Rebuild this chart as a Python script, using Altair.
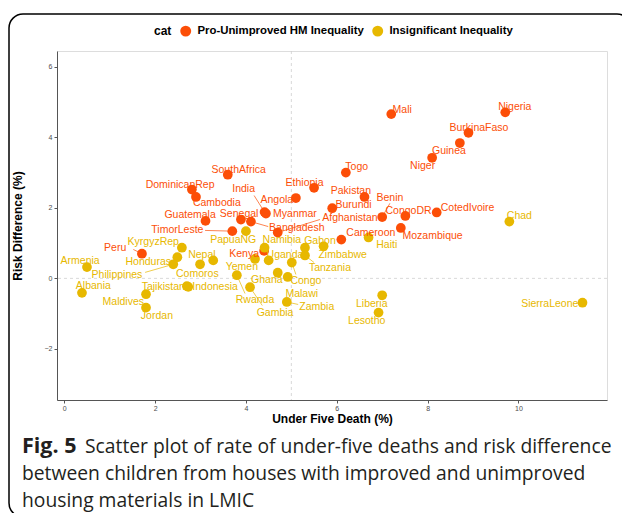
import altair as alt
import pandas as pd

# ---- data ----
red_names = ["Mali", "Nigeria", "BurkinaFaso", "Guinea", "Niger", "Togo", "Ethiopia",
             "Pakistan", "Burundi", "Benin", "CongoDR", "CotedIvoire", "Mozambique",
             "Cameroon", "Afghanistan", "SouthAfrica", "DominicanRep", "Cambodia",
             "Guatemala", "Senegal", "Bangladesh", "India", "Myanmar", "Angola",
             "TimorLeste", "Peru", "Kenya"]
red_u5d = [7.20, 9.71, 8.90, 8.71, 8.10, 6.20, 5.50, 6.61, 5.90, 7.00, 7.51, 8.20, 7.41,
           6.10, 4.70, 3.60, 2.81, 2.90, 3.11, 3.89, 4.11, 4.41, 4.44, 5.10, 3.70, 1.71, 4.40]
red_rd = [4.66, 4.71, 4.13, 3.84, 3.42, 3.00, 2.57, 2.31, 1.99, 1.74, 1.77, 1.87, 1.43,
          1.10, 1.30, 2.94, 2.52, 2.31, 1.63, 1.67, 1.61, 1.88, 1.84, 2.28, 1.34, 0.70, 0.78]

yel_names = ["Chad", "Haiti", "PapuaNG", "Namibia", "Gabon", "Zimbabwe", "Tanzania",
             "Armenia", "Albania", "KyrgyzRep", "Honduras", "Philippines", "Comoros",
             "Nepal", "Tajikistan", "Indonesia", "Maldives", "Jordan", "Rwanda", "Gambia",
             "Yemen", "Uganda", "Ghana", "Malawi", "Congo", "Zambia", "Liberia",
             "Lesotho", "SierraLeone"]
yel_u5d = [9.80, 6.70, 4.00, 4.41, 5.30, 5.71, 5.30, 0.50, 0.39, 2.59, 2.49, 2.40, 2.99,
           3.28, 2.70, 2.73, 1.80, 1.80, 3.80, 4.09, 4.20, 4.50, 4.70, 4.92, 5.01, 4.90,
           7.00, 6.92, 11.41]
yel_rd = [1.61, 1.16, 1.34, 0.87, 0.87, 0.91, 0.65, 0.32, -0.41, 0.87, 0.60, 0.40, 0.40,
          0.51, -0.22, -0.24, -0.45, -0.83, 0.09, -0.25, 0.55, 0.51, 0.16, 0.04, 0.45,
          -0.67, -0.48, -0.97, -0.69]

# repelled label positions (data units)
red_lab_x = [7.44, 9.92, 9.13, 8.47, 7.89, 6.44, 5.29, 6.31, 6.37, 7.17, 7.58, 8.88, 8.11,
             6.75, 6.29, 3.84, 2.55, 3.36, 2.77, 3.85, 5.12, 3.95, 5.08, 4.68, 2.49, 1.12, 3.96]
red_lab_y = [4.79, 4.86, 4.26, 3.61, 3.19, 3.15, 2.71, 2.48, 2.07, 2.29, 1.90, 2.01, 1.19,
             1.30, 1.71, 3.08, 2.66, 2.15, 1.79, 1.82, 1.44, 2.54, 1.84, 2.21, 1.38, 0.87, 0.70]
yel_lab_x = [10.02, 7.10, 3.72, 4.79, 5.63, 6.13, 5.85, 0.35, 0.64, 1.96, 1.85, 1.16, 2.93,
             3.03, 2.18, 3.32, 1.30, 2.04, 4.20, 4.64, 3.91, 4.86, 4.46, 5.23, 5.32, 5.56,
             6.77, 6.66, 10.69]
yel_lab_y = [1.76, 0.94, 1.08, 1.08, 1.06, 0.67, 0.30, 0.49, -0.23, 1.03, 0.46, 0.11, 0.13,
             0.67, -0.25, -0.25, -0.67, -1.07, -0.62, -0.97, 0.32, 0.65, -0.06, -0.43,
             -0.08, -0.81, -0.72, -1.21, -0.72]

# connector segment ends (None = no segment)
seg_end = {
    "Benin": (7.17, 2.13), "Afghanistan": (5.63, 1.67), "Bangladesh": (4.49, 1.47),
    "India": (4.18, 2.35), "TimorLeste": (3.10, 1.36), "Peru": (1.52, 0.82),
    "Tanzania": (5.50, 0.45), "Philippines": (1.78, 0.17), "Rwanda": (3.98, -0.43),
    "Gambia": (4.36, -0.77), "Congo": (5.10, 0.11), "Zambia": (5.15, -0.74),
}

categories = ["Pro-Unimproved HM Inequality", "Insignificant Inequality"]
palette = ["#FC4E07", "#E7B800"]
x_ticks = [0, 2, 4, 6, 8, 10]
y_ticks = [-2, 0, 2, 4, 6]
ref_x = [5]
ref_y = [0]

caption_bold = "Fig. 5"
caption_lines = ["Scatter plot of rate of under-five deaths and risk difference",
                 "between children from houses with improved and unimproved",
                 "housing materials in LMIC"]

# ---- build table ----
rows = []
for names, xs, ys, lx, ly, cat in [
    (red_names, red_u5d, red_rd, red_lab_x, red_lab_y, categories[0]),
    (yel_names, yel_u5d, yel_rd, yel_lab_x, yel_lab_y, categories[1]),
]:
    for n, x, y, a, b in zip(names, xs, ys, lx, ly):
        s = seg_end.get(n)
        rows.append({"country": n, "u5d": x, "rd": y, "lx": a, "ly": b, "cat": cat,
                     "col": palette[categories.index(cat)],
                     "sx": s[0] if s else None, "sy": s[1] if s else None})
df = pd.DataFrame(rows)

xscale = alt.Scale(domain=[-0.16, 11.95], nice=False, zero=False)
yscale = alt.Scale(domain=[-3.45, 6.45], nice=False, zero=False)

x_enc = alt.X("u5d:Q", scale=xscale,
              axis=alt.Axis(values=x_ticks, title="Under Five Death (%)", grid=False,
                            domainColor="#555555", tickColor="#555555", tickSize=3,
                            labelFontSize=7, labelColor="#4d4d4d", labelPadding=1,
                            titleFontSize=12, titleFontWeight="bold", titleColor="black",
                            titlePadding=2, titleFont="Liberation Sans"))
y_enc = alt.Y("rd:Q", scale=yscale,
              axis=alt.Axis(values=y_ticks, title="Risk Difference (%)", grid=False,
                            domainColor="#555555", tickColor="#555555", tickSize=3,
                            labelFontSize=7, labelColor="#4d4d4d", labelPadding=2,
                            titleFontSize=12, titleFontWeight="bold", titleColor="black",
                            titlePadding=20, titleFont="Liberation Sans"))

base = alt.Chart(df)

vline = alt.Chart(pd.DataFrame({"u5d": ref_x})).mark_rule(
    color="#cfcfcf", strokeDash=[3, 3], strokeWidth=0.8).encode(x=alt.X("u5d:Q", scale=xscale))
hline = alt.Chart(pd.DataFrame({"rd": ref_y})).mark_rule(
    color="#cfcfcf", strokeDash=[3, 3], strokeWidth=0.8).encode(y=alt.Y("rd:Q", scale=yscale))

segs = base.transform_filter("isValid(datum.sx)").mark_rule(strokeWidth=0.7).encode(
    x=alt.X("u5d:Q", scale=xscale), y=alt.Y("rd:Q", scale=yscale),
    x2="sx:Q", y2="sy:Q", color=alt.Color("col:N", scale=None))

points = base.mark_circle(size=95, opacity=1).encode(
    x=x_enc, y=y_enc,
    color=alt.Color("cat:N", scale=alt.Scale(domain=categories, range=palette),
                    legend=alt.Legend(title="cat", orient="none", legendX=97, legendY=-26,
                                      direction="horizontal", titleOrient="left",
                                      titleFontSize=12, titleFontWeight="bold",
                                      titleColor="black", titleFont="Liberation Sans",
                                      labelFontSize=11.4, labelFontWeight="bold",
                                      labelColor="black", labelFont="Liberation Sans",
                                      labelLimit=0, symbolType="circle", symbolSize=120,
                                      symbolStrokeWidth=0, columnPadding=8,
                                      labelOffset=6, titlePadding=8)))

labels = base.mark_text(fontSize=10.5, font="Liberation Sans", align="center",
                        baseline="middle").encode(
    x=alt.X("lx:Q", scale=xscale), y=alt.Y("ly:Q", scale=yscale), text="country:N",
    color=alt.Color("col:N", scale=None))

one = pd.DataFrame({"k": [0]})
frame = alt.Chart(one).mark_rect(filled=False, stroke="black", strokeWidth=1.5,
                                 cornerRadius=14).encode(
    x=alt.value(-48), x2=alt.value(574), y=alt.value(-37), y2=alt.value(466))

cap_style = dict(font="Open Sans", fontSize=19.3, align="left", baseline="middle",
                 color="#231f20")
cap_bold = alt.Chart(one).mark_text(font="Open Sans", fontSize=21.5, fontWeight="bold",
                                    align="left", baseline="middle", color="#231f20").encode(
    x=alt.value(-35), y=alt.value(396), text=alt.value(caption_bold))
cap_l1 = alt.Chart(one).mark_text(**cap_style).encode(
    x=alt.value(28), y=alt.value(396), text=alt.value(caption_lines[0]))
cap_l2 = alt.Chart(one).mark_text(**cap_style).encode(
    x=alt.value(-35), y=alt.value(423), text=alt.value(caption_lines[1]))
cap_l3 = alt.Chart(one).mark_text(**cap_style).encode(
    x=alt.value(-35), y=alt.value(450), text=alt.value(caption_lines[2]))

chart = alt.layer(frame, vline, hline, segs, points, labels,
                  cap_bold, cap_l1, cap_l2, cap_l3).properties(
    width=550, height=349,
    autosize=alt.AutoSizeParams(type="none"),
    padding={"left": 49, "top": 43, "right": 15, "bottom": 113},
).configure_view(stroke=None).configure(background="white")

chart.save("out.html", embed_options={"renderer": "svg", "actions": False})
